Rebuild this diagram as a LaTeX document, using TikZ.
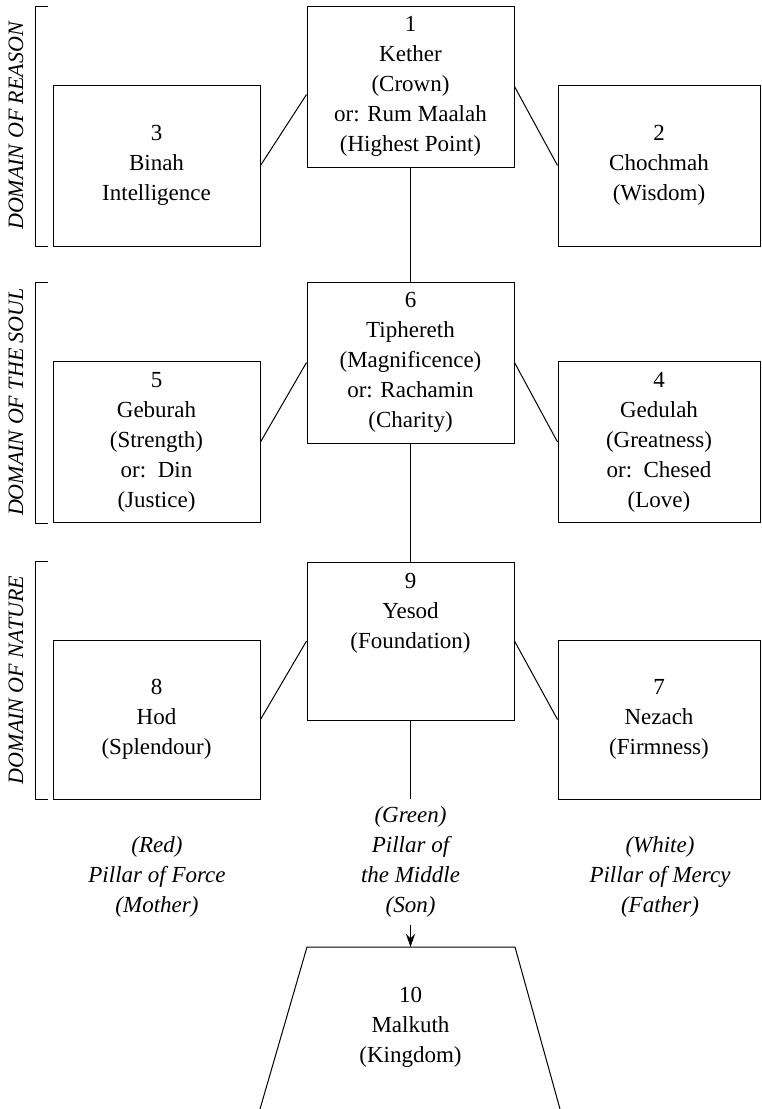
\documentclass[tikz,border=0pt]{standalone}
\usepackage{fontspec}
\setmainfont{Liberation Serif}
\usetikzlibrary{arrows.meta,calc}
\begin{document}
\begin{tikzpicture}[x=1pt,y=-1pt,
 box/.style={draw,line width=1pt,minimum width=207pt,minimum height=161pt,align=center,inner sep=0pt,font=\fontsize{23}{30}\selectfont},
 lbl/.style={align=center,inner sep=0pt,font=\fontsize{23}{30}\selectfont\itshape},
 dom/.style={rotate=90,inner sep=0pt,font=\fontsize{22}{25}\selectfont\itshape},
 conn/.style={line width=1pt},
 brk/.style={line width=1pt}]
\useasboundingbox (0,0) rectangle (762,1109);
% brackets
\draw[brk] (48,6) -- (35,6) -- (35,246) -- (48,246);
\draw[brk] (48,282) -- (35,282) -- (35,523) -- (48,523);
\draw[brk] (48,561) -- (35,561) -- (35,799) -- (48,799);
\node[dom] (d1) at (16,126) {DOMAIN OF REASON};
\node[dom] (d2) at (16,402) {DOMAIN OF THE SOUL};
\node[dom] (d3) at (16,680) {DOMAIN OF NATURE};
% top row
\node[box] (n1) at (410.5,86.5) {1\\Kether\\(Crown)\\or: Rum Maalah\\(Highest Point)};
\node[box] (n3) at (156.5,165.5) {3\\Binah\\Intelligence};
\node[box,minimum width=202pt] (n2) at (659,165.5) {2\\Chochmah\\(Wisdom)};
% middle row
\node[box] (n6) at (410.5,362.5) {6\\Tiphereth\\(Magnificence)\\or: Rachamin\\(Charity)};
\node[box] (n5) at (156.5,442) {5\\Geburah\\(Strength)\\or:\ \ Din\\(Justice)};
\node[box,minimum width=202pt] (n4) at (659,442) {4\\Gedulah\\(Greatness)\\or:\ \ Chesed\\(Love)};
% bottom row
\node[box,minimum height=158pt] (n9) at (410.5,641) {9\\Yesod\\(Foundation)\\\mbox{}\\\mbox{}};
\node[box,minimum height=159pt] (n8) at (156.5,719.5) {8\\Hod\\(Splendour)};
\node[box,minimum width=202pt,minimum height=159pt] (n7) at (659,719.5) {7\\Nezach\\(Firmness)};
% connectors
\draw[conn] (n3.east) -- ([yshift=-8pt]n1.west);
\draw[conn] (n1.east) -- (n2.west);
\draw[conn] (n5.east) -- (n6.west);
\draw[conn] (n6.east) -- (n4.west);
\draw[conn] (n8.east) -- (n9.west);
\draw[conn] (n7.west) -- (n9.east);
\draw[conn] (n1.south) -- (n6.north);
\draw[conn] (n6.south) -- (n9.north);
\coordinate (m9) at (410.5,799);
\draw[conn] (n9.south) -- (m9);
% pillars
\node[lbl] (red) at (157,877) {(Red)\\Pillar of Force\\(Mother)};
\node[lbl] (green) at (410.5,862) {(Green)\\Pillar of\\the Middle\\(Son)};
\node[lbl] (white) at (660,877) {(White)\\Pillar of Mercy\\(Father)};
% Malkuth
\coordinate (t1) at (307,947);
\coordinate (t2) at (515,947);
\coordinate (tm) at (410.5,947);
\coordinate (b1) at (260,1109);
\coordinate (b2) at (560,1109);
\draw[conn,line join=miter] (b1) -- (t1) -- (t2) -- (b2);
\node[lbl,font=\fontsize{23}{30}\selectfont] (n10) at (410.5,1027) {10\\Malkuth\\(Kingdom)};
\draw[conn,-{Stealth[length=13pt,width=9pt]},shorten <=7pt] (green.south) -- (tm);
\end{tikzpicture}
\end{document}
